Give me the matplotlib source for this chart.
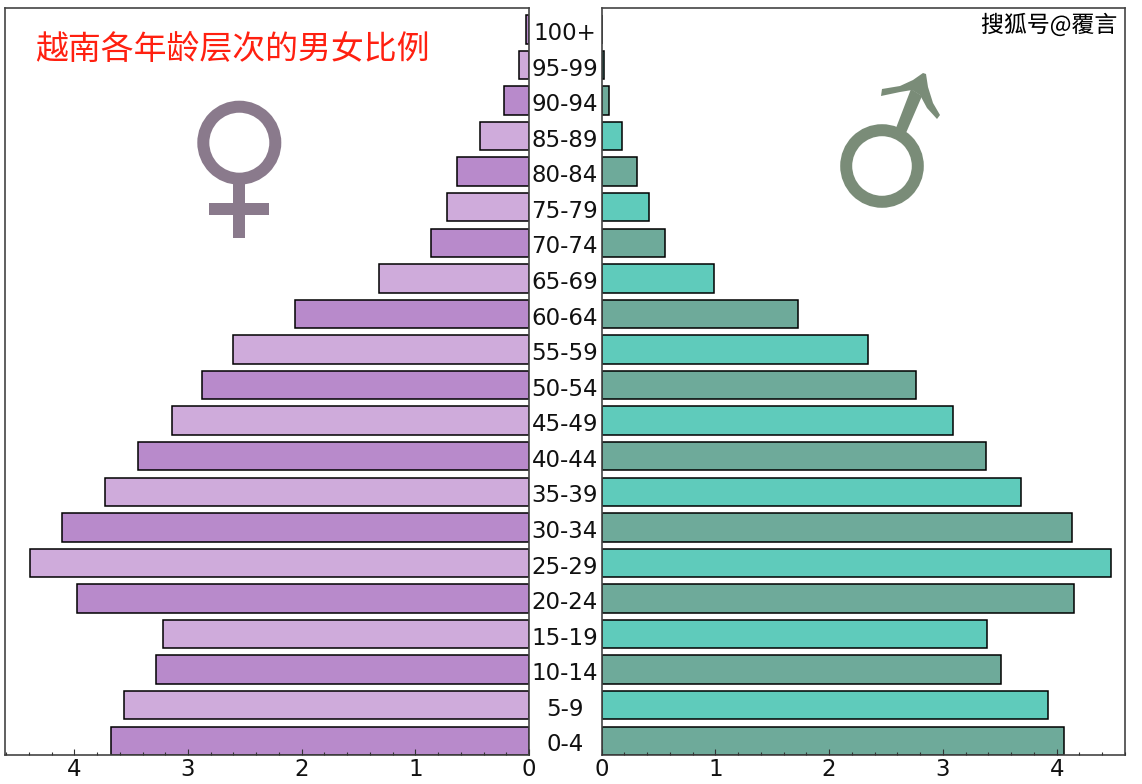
import matplotlib
matplotlib.use('Agg')
import matplotlib.pyplot as plt
from matplotlib.patches import Circle, Polygon, Rectangle
from matplotlib.transforms import Affine2D
import matplotlib.patheffects as pe
import numpy as np

WIDTH, HEIGHT = 1142, 784

age_groups = ['0-4', '5-9', '10-14', '15-19', '20-24', '25-29', '30-34',
              '35-39', '40-44', '45-49', '50-54', '55-59', '60-64', '65-69',
              '70-74', '75-79', '80-84', '85-89', '90-94', '95-99', '100+']
female = [3.68, 3.56, 3.28, 3.22, 3.98, 4.39, 4.11, 3.73, 3.44, 3.14, 2.88,
          2.60, 2.06, 1.32, 0.86, 0.72, 0.63, 0.43, 0.22, 0.09, 0.03]
male = [4.06, 3.92, 3.51, 3.39, 4.15, 4.48, 4.13, 3.69, 3.38, 3.085, 2.76,
        2.34, 1.73, 0.99, 0.56, 0.42, 0.31, 0.18, 0.07, 0.025, 0.005]

female_colors = ['#B88ACB', '#CFABDB']
male_colors = ['#6EAA9A', '#5FCBBB']
spine_color = '#444444'
cjk_font = ['Noto Sans CJK SC', 'DejaVu Sans']


def style_axis(ax):
    for spine in ax.spines.values():
        spine.set_color(spine_color)
        spine.set_linewidth(1.2)
    ax.set_ylim(-0.4, 20.6)
    ax.set_yticks([])
    ax.set_xticks([0, 1, 2, 3, 4])
    ax.set_xticks(np.arange(0, 4.61, 0.2), minor=True)
    ax.tick_params(axis='x', which='major', direction='in', length=4, width=0.8,
                   labelsize=16.5, pad=2.5, color='#333333', labelcolor='#111111')
    ax.tick_params(axis='x', which='minor', direction='in', length=2, width=0.8,
                   color='#333333')
    ax.set_axisbelow(False)


fig = plt.figure(figsize=(WIDTH / 100, HEIGHT / 100), dpi=100)
ax_f = fig.add_axes([5 / WIDTH, 29 / HEIGHT, 524 / WIDTH, 747 / HEIGHT])
ax_m = fig.add_axes([601.5 / WIDTH, 29 / HEIGHT, 523.5 / WIDTH, 747 / HEIGHT])

y = np.arange(len(age_groups))
ax_f.barh(y, female, height=0.8, edgecolor='black', linewidth=1.1,
          color=[female_colors[i % 2] for i in y])
ax_m.barh(y, male, height=0.8, edgecolor='black', linewidth=1.1,
          color=[male_colors[i % 2] for i in y])

ax_f.set_xlim(4.61, 0)
ax_m.set_xlim(0, 4.59)
style_axis(ax_f)
style_axis(ax_m)

# age labels sit in the gap between the two panels
for pos, name in zip(y, age_groups):
    ax_m.annotate(name, (0, pos), xytext=(-26.5, -3), textcoords='offset points',
                  ha='center', va='center', fontsize=16.5, color='#111111',
                  annotation_clip=False)

# gender symbols, placed in pixels from the top left of the image
px = Affine2D().scale(1, -1).translate(0, HEIGHT)
female_sign = '#8A7A8C'
male_sign = '#7A8C78'

fig.add_artist(Circle((239.3, 142.7), 36, fill=False, lw=12 * 0.72,
                      edgecolor=female_sign, transform=px))
fig.add_artist(Rectangle((233.3, 182), 12, 56, color=female_sign, lw=0, transform=px))
fig.add_artist(Rectangle((209, 203), 60, 11.5, color=female_sign, lw=0, transform=px))

fig.add_artist(Circle((882, 166), 35.8, fill=False, lw=12 * 0.72,
                      edgecolor=male_sign, transform=px))
fig.add_artist(Polygon([(896, 128), (906, 133), (922, 96), (911, 89)],
                       closed=True, color=male_sign, lw=0, transform=px))
fig.add_artist(Polygon([(923, 73), (926, 74), (928, 87), (933, 103), (940, 115),
                        (937, 119), (927, 108), (920, 95), (912, 90), (900, 92),
                        (881, 96), (882, 89), (900, 86), (913, 80)],
                       closed=True, color=male_sign, lw=0, transform=px))

fig.text(35 / WIDTH, 1 - 50 / HEIGHT, '越南各年龄层次的男女比例', color='#FF2010',
         fontsize=23.7, family=cjk_font, ha='left', va='center')
fig.text(1117 / WIDTH, 1 - 25 / HEIGHT, '搜狐号@覆言', color='black', fontsize=16.5,
         family=cjk_font, ha='right', va='center',
         path_effects=[pe.withStroke(linewidth=0.6, foreground='white')])

fig.savefig('out.png', dpi=100)
